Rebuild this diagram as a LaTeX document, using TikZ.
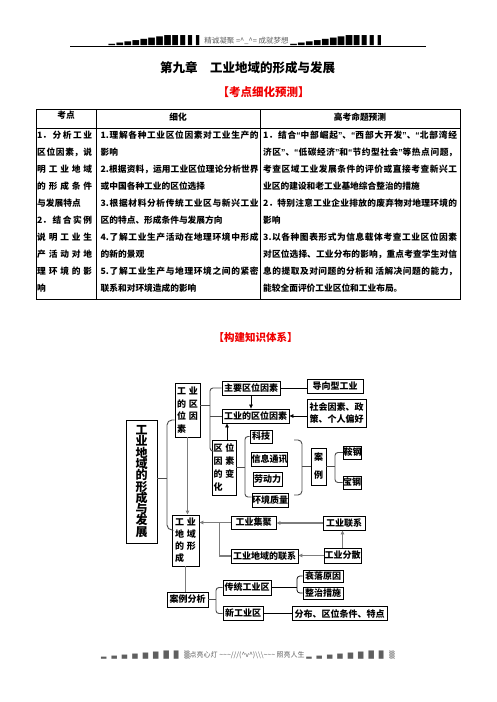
\documentclass[tikz,border=0pt]{standalone}
\usepackage{fontspec}
\setmainfont{Noto Sans CJK SC}
\newfontfamily\dejavu{DejaVu Sans}
\newfontfamily\qfont{Liberation Sans}
\usetikzlibrary{arrows.meta,positioning}
\definecolor{hdgray}{RGB}{95,95,95}
\definecolor{lkgray}{RGB}{125,125,125}
\definecolor{brgray}{RGB}{75,75,75}
\definecolor{ttred}{RGB}{240,0,0}
\XeTeXlinebreaklocale "zh"
\XeTeXlinebreakskip=0pt plus 5pt
\tolerance=9999
\newcommand\cc{\hspace{3pt}}
\newcommand\oq{{\qfont\bfseries “}}
\newcommand\cq{{\qfont\bfseries ”}}
\newcommand\jl[2]{\parbox{#1}{\noindent\parfillskip=0pt\relax #2}}
\newcommand\bigfont{\bfseries\fontsize{12}{11.3}\selectfont\lineskiplimit=-20pt\relax}
\newcommand\hdbars{{\color{black}▁\,▂\,▃\,▄\,▅\,▆\,▇\,█\,▉\,▊\,▋\,▌}}
\newcommand\ftbars{▂\hspace{5pt}▃\hspace{5pt}▄\hspace{5pt}▅\hspace{5pt}▆\hspace{5pt}▇\hspace{5pt}█\hspace{5pt}▉\hspace{5pt}▒}
\tikzset{
  bx/.style={draw, line width=0.8pt, inner sep=0pt, font=\bfseries\fontsize{9}{9}\selectfont},
  vb/.style={bx, align=left, font=\bfseries\fontsize{9}{12.7}\selectfont},
  tx/.style={inner sep=0pt, anchor=west, font=\bfseries\fontsize{8.7}{8.7}\selectfont},
  lk/.style={draw=lkgray, line width=1.2pt},
  ln/.style={draw=black, line width=0.7pt},
  brc/.style={draw=brgray, line width=0.9pt, rounded corners=3pt},
  tip/.style={-{Triangle[length=4pt,width=3.5pt]}},
}
\begin{document}
\begin{tikzpicture}[x=1pt,y=-1pt]
\useasboundingbox (0,0) rectangle (496,702);
% page header and footer
\node[font=\fontsize{7.5}{7.5}\selectfont, text=hdgray] (hd) at (246.5,41)
  {{\dejavu\fontsize{8.5}{8.5}\selectfont\hdbars}\ 精诚凝聚 =\textasciicircum\_\textasciicircum= 成就梦想 {\dejavu\fontsize{8.5}{8.5}\selectfont\hdbars}};
\coordinate (hl) at (70,46);
\coordinate (hr) at (426,46);
\draw[line width=0.7pt] (hl) -- (hr);
\node[font=\fontsize{7}{7}\selectfont, text=hdgray] (ft) at (248,655)
  {{\dejavu\ftbars}点亮心灯 \textasciitilde\textasciitilde\textasciitilde///(\textasciicircum v\textasciicircum)\textbackslash\textbackslash\textbackslash\textasciitilde\textasciitilde\textasciitilde\ 照亮人生 {\dejavu\ftbars}};
% title
\node[font=\bfseries\fontsize{12.5}{12.5}\selectfont] (title) at (247.5,68) {第九章　工业地域的形成与发展};
\node[font=\bfseries\fontsize{11.5}{11.5}\selectfont, text=ttred] (kdyc) at (263.5,92) {【考点细化预测】};

% table
\draw[line width=0.9pt] (36,109) rectangle (460,299);
\draw[line width=0.8pt] (36,128) -- (460,128);
\draw[line width=0.8pt] (96,109) -- (96,299);
\draw[line width=0.8pt] (260,109) -- (260,299);
\node[tx, anchor=center] (h1) at (66,115) {考点};
\node[tx, anchor=center] (h2) at (178,117) {细化};
\node[tx, anchor=center] (h3) at (360,117) {高考命题预测};
\foreach \t [count=\i from 0] in {
  {\jl{55pt}{1．分析工业}},{\jl{55pt}{区位因素，说}},{\jl{55pt}{明工业地域}},
  {\jl{55pt}{的形成条件}},{与发展特点},{\jl{55pt}{2．结合实例}},
  {\jl{55pt}{说明工业生}},{\jl{55pt}{产活动对地}},{\jl{55pt}{理环境的影}},{响}}
  \node[tx] (c1-\i) at (37,{135+17*\i}) {\t};
\foreach \t [count=\i from 0] in {
  {\jl{158pt}{1.理解各种工业区位因素对工业生产的}},{影响},
  {\jl{158pt}{2.根据资料，运用工业区位理论分析世界}},{或中国各种工业的区位选择},
  {\jl{158pt}{3.根据材料分析传统工业区与新兴工业}},{区的特点、形成条件与发展方向},
  {\jl{158pt}{4.了解工业生产活动在地理环境中形成}},{的新的景观},
  {\jl{158pt}{5.了解工业生产与地理环境之间的紧密}},{联系和对环境造成的影响}}
  \node[tx] (c2-\i) at (100.5,{135+17*\i}) {\t};
\foreach \t [count=\i from 0] in {
  {\jl{194pt}{1．结合\oq 中部崛起\cq 、\oq 西部大开发\cq 、\oq 北部湾经}},
  {\jl{194pt}{济区\cq 、\oq 低碳经济\cq 和\oq 节约型社会\cq 等热点问题，}},
  {\jl{194pt}{考查区域工业发展条件的评价或直接考查新兴工}},
  {业区的建设和老工业基地综合整治的措施},
  {\jl{194pt}{2．特别注意工业企业排放的废弃物对地理环境的}},{影响},
  {\jl{194pt}{3.以各种图表形式为信息载体考查工业区位因素}},
  {\jl{194pt}{对区位选择、工业分布的影响，重点考查学生对信}},
  {\jl{194pt}{息的提取及对问题的分析和\ 活解决问题的能力，}},
  {能较全面评价工业区位和工业布局。}}
  \node[tx] (c3-\i) at (263,{135+17*\i}) {\t};

% knowledge map
\node[font=\bfseries\fontsize{10.5}{10.5}\selectfont, text=ttred] (gjts) at (255.5,337) {【构建知识体系】};
\node[bx, align=center, font=\bigfont, minimum width=31, minimum height=123] (big) at (141.5,481.5)
  {工\\业\\地\\域\\的\\形\\成\\与\\发\\展};
\node[vb, minimum width=25, minimum height=54] (vqw) at (187.5,410) {工\cc 业\\的\cc 区\\位\cc 因\\素};
\node[bx, minimum width=58, minimum height=14] (zyyw) at (251,388) {主要区位因素};
\node[bx, minimum width=67, minimum height=14] (gyqw) at (255.5,416) {工业的区位因素};
\node[bx, minimum width=56, minimum height=14] (dxx) at (335,386) {导向型工业};
\node[bx, align=center, font=\bfseries\fontsize{9}{12}\selectfont,
  minimum width=59, minimum height=28] (shys) at (336.5,413) {社会因素、政\\策、个人偏好};
\node[vb, minimum width=24, minimum height=55] (bh) at (224,467.5) {区\cc 位\\因\cc 素\\的\cc 变\\化};
\node[bx, minimum width=22, minimum height=13] (kj) at (261,436.5) {科技};
\node[bx, minimum width=35, minimum height=14] (xxtx) at (269.5,459) {信息通讯};
\node[bx, minimum width=29, minimum height=14] (ldl) at (267.5,479) {劳动力};
\node[bx, minimum width=36, minimum height=14] (hjzl) at (270,500) {环境质量};
\node[bx, align=center, font=\bfseries\fontsize{9}{18}\selectfont,
  minimum width=15, minimum height=37] (al) at (318.5,466.5) {案\\例};
\node[bx, minimum width=17, minimum height=13] (ag) at (352.5,452.5) {鞍钢};
\node[bx, minimum width=18, minimum height=13] (bg) at (352,482.5) {宝钢};
\node[vb, font=\bfseries\fontsize{9}{12}\selectfont, minimum width=27, minimum height=51] (vxc) at (185.5,540.5) {工\cc 业\\地\cc 域\\的\cc 形\\成};
\node[bx, minimum width=45, minimum height=13] (jj) at (253.5,522.5) {工业集聚};
\node[bx, minimum width=42, minimum height=14] (lx) at (344,523) {工业联系};
\node[bx, minimum width=37, minimum height=15] (fs) at (342.5,555.5) {工业分散};
\node[bx, minimum width=67, minimum height=14] (dylx) at (264.5,556) {工业地域的联系};
\node[bx, minimum width=41, minimum height=15] (alfx) at (187.5,599.5) {案例分析};
\node[bx, minimum width=48, minimum height=15] (ctq) at (247,587.5) {传统工业区};
\node[bx, minimum width=40, minimum height=14] (xgy) at (243,613.5) {新工业区};
\node[bx, minimum width=40, minimum height=12] (slyy) at (323,576) {衰落原因};
\node[bx, minimum width=40, minimum height=12] (zzcs) at (323,593) {整治措施};
\node[bx, minimum width=95, minimum height=14] (fb) at (339.5,613.5) {分布、区位条件、特点};

% braces
\coordinate (aS) at (210,405);
\coordinate (aB) at (210,451);
\draw[brc] (zyyw.west) -| (aB) -- (aB -| bh.west);
\draw[brc] (aS) -- (aS -| vqw.east);
\draw[brc] (gyqw.west) -- (gyqw.west -| aB);
\coordinate (bT) at (167,420);
\coordinate (bM) at (167,478);
\coordinate (bB) at (167,530);
\draw[brc, rounded corners=5pt] (bT -| vqw.west) -- (bT) -- (bB) -- (bB -| vxc.west);
\draw[brc] (bM) -- (bM -| big.east);
\coordinate (cM) at (245,467.5);
\coordinate (cB) at (245,497);
\draw[brc] (kj.west) -| (cB) -- (cB -| hjzl.west);
\draw[brc] (cM) -- (cM -| bh.east);
\coordinate (dT) at (294,440);
\coordinate (dM) at (302,466.5);
\coordinate (dB) at (294,495);
\draw[brc, rounded corners=4pt] (dT) -| (dM) |- (dB);
\draw[brc] (dM) -- (dM -| al.west);
\coordinate (eM) at (335,466.5);
\draw[brc] (ag.west) -| (eM) |- (bg.west);
\draw[brc] (al.east |- eM) -- (eM);
\coordinate (fM) at (216,599.5);
\draw[brc] (ctq.west) -| (fM) |- (xgy.west);
\draw[brc] (alfx.east) -- (fM);
\coordinate (gM) at (297,587.5);
\draw[ln, rounded corners=3pt] (slyy.west) -| (gM) |- (zzcs.west);
\draw[ln] (ctq.east) -- (gM);

% connectors
\draw[ln, tip] (zyyw.south) -- (zyyw.south |- gyqw.north);
\draw[ln] (zyyw.east) -- (zyyw.east -| dxx.west);
\draw[ln, tip] (gyqw.east -| shys.west) -- (gyqw.east);
\draw[ln, tip] ([xshift=3pt]bh.north) -- ([xshift=3pt]bh.north |- gyqw.south);
\draw[lk, tip] (vqw.south) -- (vqw.south |- vxc.north);
\draw[lk, tip] (jj.west) -- (jj.west -| vxc.east);
\draw[lk, tip] (lx.west) -- (lx.west -| jj.east);
\draw[lk, tip] (fs.north) -- (fs.north |- lx.south);
\draw[lk, tip] (fs.west) -- (fs.west -| dylx.east);
\coordinate (jn) at ([xshift=-11pt]jj.west);
\draw[lk] (jn) |- (dylx.west);
\draw[lk] (vxc.south) -- (vxc.south |- alfx.north);
\draw[ln] (xgy.east) -- (fb.west);
\end{tikzpicture}
\end{document}
